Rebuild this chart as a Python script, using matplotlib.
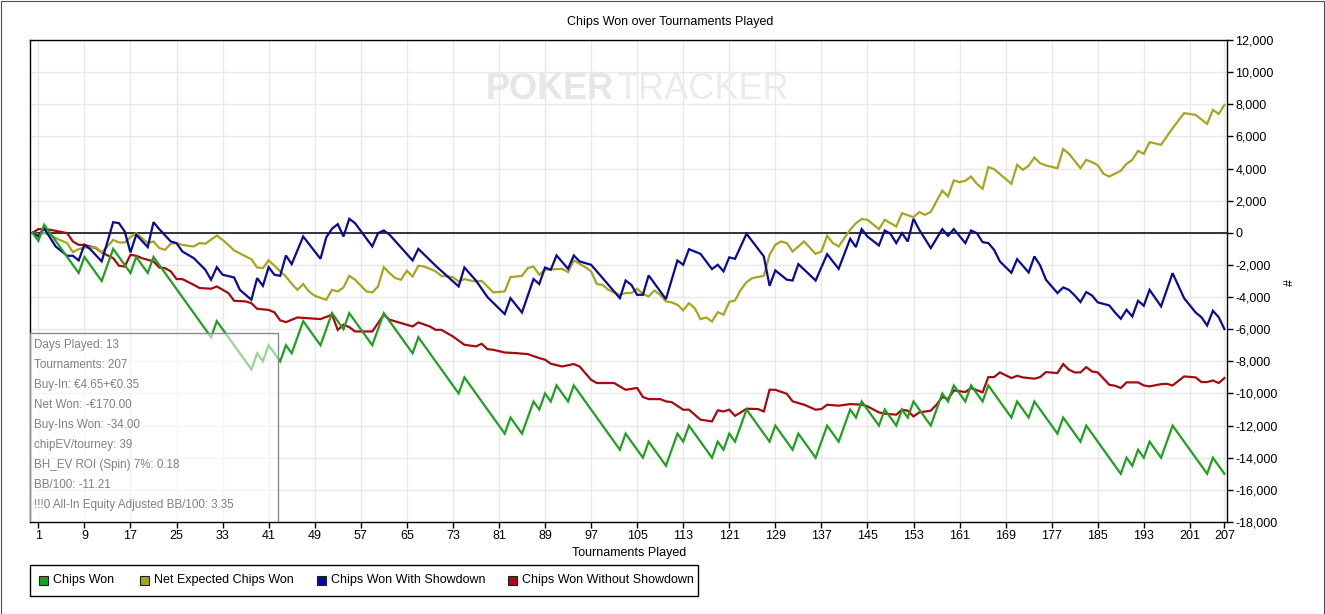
import matplotlib
matplotlib.use('Agg')
import matplotlib.pyplot as plt
from matplotlib.patches import Rectangle
from matplotlib.ticker import FuncFormatter

plt.rcParams['font.family'] = ['Liberation Sans', 'DejaVu Sans']

# ---------------- data (tournament index, cumulative chips) ----------------
green_t = [0,1,2,8,9,12,14,17,18,20,21,31,32,38,39,40,41,43,44,45,47,50,52,54,55,59,61,66,67,74,
           75,82,83,85,87,88,89,90,91,93,94,102,103,106,107,110,112,113,114,118,119,120,121,122,124,
           128,129,132,133,136,138,140,142,143,144,147,148,150,151,152,153,156,158,159,160,162,163,
           165,166,170,171,173,174,178,179,182,183,189,190,191,192,193,194,196,198,204,205,207]
green_v = [0,-500,500,-2500,-1500,-3000,-1000,-2500,-1500,-2500,-1500,-6500,-5500,-8500,-7500,
           -8000,-7000,-8000,-7000,-7500,-5500,-7000,-5000,-6000,-5000,-7000,-5000,-7500,-6500,-10000,
           -9000,-12500,-11500,-12500,-10500,-11000,-10000,-10500,-9500,-10500,-9500,-13500,-12500,
           -14000,-13000,-14500,-12500,-13000,-12000,-14000,-13000,-13500,-12500,-13000,-11000,
           -13000,-12000,-13500,-12500,-14000,-12000,-13000,-11000,-11500,-10500,-12000,-11000,
           -12000,-11000,-11500,-10500,-12000,-10000,-10500,-9500,-10500,-9500,-10500,-9500,-11500,
           -10500,-11500,-10500,-12500,-11500,-13000,-12000,-15000,-14000,-14500,-13500,-14000,
           -13000,-14000,-12000,-15000,-14000,-15000]

yellow_t = [0,1,2,3,4,6,7,8,9,11,12,13,14,15,16,17,18,19,20,21,22,23,24,25,26,27,28,29,30,32,
            33,34,35,37,38,39,40,41,42,43,44,45,46,47,48,49,51,52,53,54,55,56,58,59,60,61,62,63,
            64,65,66,67,68,69,70,71,73,74,75,76,77,78,79,80,82,83,85,86,87,88,89,91,92,93,94,96,
            97,98,99,100,102,103,104,105,106,107,108,109,110,111,112,113,114,115,116,117,118,119,
            120,121,122,123,124,125,127,128,129,130,131,132,134,136,137,138,139,140,142,143,144,
            145,147,148,150,151,153,154,155,156,158,159,160,161,162,163,164,165,166,167,170,171,
            172,173,174,175,176,178,179,180,182,183,184,185,186,187,189,190,191,192,193,194,196,
            198,200,202,204,205,206,207]
yellow_v = [0,-120,0,-120,-330,-640,-1200,-1020,-910,-910,-1220,-850,-440,-600,-600,-270,-20,
            -330,-640,-540,-950,-1060,-680,-640,-750,-810,-850,-640,-680,-170,-440,-750,-1100,
            -1470,-1640,-2160,-2200,-1720,-2050,-2400,-2720,-3170,-3550,-3190,-3650,-3920,-4170,
            -3550,-3650,-3400,-2680,-2920,-3650,-3710,-3340,-2140,-2510,-2820,-2920,-2360,-2720,
            -2050,-2100,-2240,-2400,-2680,-2760,-3030,-2880,-2970,-3030,-2990,-3340,-3710,-3650,
            -2760,-2680,-2200,-2100,-2610,-2300,-2260,-2240,-2450,-1720,-2140,-2400,-3190,-3240,
            -3550,-3860,-3750,-3750,-3480,-3800,-3960,-3590,-3860,-4270,-4330,-4480,-4830,-4380,
            -4690,-5370,-5270,-5520,-4940,-5100,-4310,-4210,-3550,-3070,-2820,-2680,-1370,-750,
            -540,-640,-1160,-540,-1310,-1160,-190,-640,-850,190,600,850,810,230,810,390,1220,975,
            1290,1120,1300,2630,2260,3260,3150,3240,3500,3050,2740,4090,3960,3050,4230,3920,4170,
            4690,4330,4190,4020,5210,4920,4020,4540,4400,4210,3670,3500,3860,4290,4540,5100,4920,
            5640,5480,6510,7450,7340,6780,7650,7400,7960]

blue_t = [0,1,2,4,6,7,8,9,10,12,14,15,16,17,18,20,21,22,24,25,26,28,30,31,32,33,35,36,38,39,
          40,41,42,43,44,45,47,50,51,52,53,54,55,56,59,60,61,62,66,67,70,74,75,77,79,82,83,85,
          87,88,89,90,91,93,94,95,97,98,100,102,103,104,105,106,107,110,112,113,114,116,118,119,
          120,121,122,124,127,128,129,131,132,133,136,138,140,142,143,144,145,147,148,149,150,
          151,152,153,154,156,158,159,160,162,163,164,165,166,167,168,170,171,173,174,175,176,
          177,178,179,180,181,182,183,184,185,187,188,189,190,191,192,193,194,196,198,200,202,
          203,204,205,206,207]
blue_v = [0,-230,290,-850,-1430,-1430,-1720,-750,-1016,-1780,660,600,80,-1220,-120,-890,660,
          230,-540,-640,-1160,-1580,-2300,-2920,-2140,-2610,-2780,-3550,-4170,-2820,-3300,-2140,
          -2610,-2680,-1410,-1950,-230,-1620,-290,250,540,-230,870,600,-850,-20,145,-120,-1720,
          -1000,-2050,-3340,-2160,-2970,-4000,-5060,-4070,-4960,-2880,-3190,-2160,-2300,-1410,
          -2240,-1410,-1780,-1990,-2400,-3240,-4070,-2970,-3240,-3860,-3860,-2650,-4130,-1720,
          -1990,-1020,-1310,-2260,-1990,-2400,-1530,-1620,-60,-1470,-3300,-2340,-2920,-2970,
          -1950,-2970,-1330,-2240,-370,-890,230,-230,-790,145,-60,-640,-20,-540,870,190,-950,230,
          -190,230,-640,145,-20,-580,-640,-1060,-1780,-2490,-1640,-2470,-1470,-2030,-2920,-3340,
          -3750,-3400,-3550,-3900,-4310,-3690,-3900,-4330,-4520,-4960,-5350,-4790,-5210,-4230,
          -4540,-3550,-4580,-2510,-4070,-4960,-5250,-5770,-4850,-5250,-5990]

red_t = [0,1,3,6,7,8,9,11,12,14,15,16,17,18,19,21,22,23,24,25,26,28,29,31,32,34,35,37,38,39,
         41,42,43,44,46,50,52,53,54,55,56,59,61,62,64,66,67,69,70,71,73,75,77,78,79,80,82,84,86,
         88,89,90,92,94,95,96,97,98,101,102,103,105,106,107,109,110,111,113,114,116,118,119,120,
         121,122,123,124,126,127,128,129,131,132,134,136,137,138,140,142,144,145,147,148,150,151,
         152,153,154,156,157,158,159,160,162,163,165,166,167,168,170,171,172,174,175,176,178,179,
         180,181,182,183,184,185,186,187,188,189,190,192,193,194,196,197,198,200,202,203,204,205,
         206,207]
red_v = [0,230,190,-20,-540,-750,-750,-950,-1220,-1580,-2050,-2100,-1370,-1430,-1580,-1780,
         -2160,-2200,-2400,-2880,-2880,-3240,-3440,-3480,-3340,-3750,-4230,-4270,-4380,-4730,
         -4800,-4950,-5450,-5560,-5270,-5370,-5100,-6040,-5720,-5870,-6140,-6140,-5100,-5410,
         -5620,-5830,-5580,-5830,-6040,-6040,-6450,-6970,-7070,-6910,-7240,-7280,-7450,-7490,
         -7550,-7800,-7900,-8150,-8320,-8170,-8320,-8730,-9150,-9350,-9350,-9560,-9770,-9660,
         -10220,-10350,-10350,-10490,-10540,-11010,-11010,-11630,-11740,-11050,-11120,-11010,
         -11390,-11180,-10950,-10970,-11120,-9770,-9770,-10020,-10490,-10700,-11010,-10970,
         -10700,-10760,-10660,-10700,-10800,-11180,-11260,-11320,-11010,-11070,-11430,-11180,
         -11070,-10700,-10220,-10350,-9810,-9910,-9660,-9930,-8980,-8980,-8690,-9040,-8900,-9000,
         -9080,-8980,-8670,-8730,-8170,-8520,-8690,-8690,-8360,-8630,-8690,-9080,-9460,-9520,
         -9660,-9310,-9310,-9500,-9560,-9420,-9400,-9500,-8940,-9000,-9290,-9290,-9190,-9350,
         -9040]

series_names = ['Chips Won', 'Net Expected Chips Won', 'Chips Won With Showdown',
                'Chips Won Without Showdown']
series_colors = ['#20a020', '#a6a620', '#0a0a9a', '#a80a12']

x_ticks = list(range(1, 202, 8)) + [207]
y_ticks = list(range(-18000, 12001, 2000))

info_lines = ['Days Played: 13', 'Tournaments: 207', 'Buy-In: €4.65+€0.35', 'Net Won: -€170.00',
              'Buy-Ins Won: -34.00', 'chipEV/tourney: 39', 'BH_EV ROI (Spin) 7%: 0.18',
              'BB/100: -11.21', '!!!0 All-In Equity Adjusted BB/100: 3.35']

# ---------------- figure ----------------
W, H = 1325, 614
fig = plt.figure(figsize=(W / 100, H / 100), dpi=100)
ax = fig.add_axes([30 / W, 1 - 522 / H, 1197 / W, 482 / H])

ax.set_xlim(-0.45, 207.45)
ax.set_ylim(-18000, 12000)
ax.set_xticks(x_ticks)
ax.set_yticks(y_ticks)
ax.yaxis.tick_right()
ax.yaxis.set_major_formatter(FuncFormatter(lambda v, p: f'{int(v):,}'))
ax.tick_params(axis='both', labelsize=9, length=4, width=1, direction='out', colors='black',
               pad=2)
ax.grid(True, color='#e9e9e9', lw=1, zorder=0)
ax.set_axisbelow(True)
for s in ax.spines.values():
    s.set_color('black')
    s.set_linewidth(1)

ax.axhline(0, color='black', lw=1.1, zorder=1.5)

# watermark
ax.text(0.4875, 0.898, 'POKER', transform=ax.transAxes, ha='right', va='center',
        fontsize=26, fontweight='bold', color='#e6e6e6', zorder=1)
ax.text(0.4900, 0.898, 'TRACKER', transform=ax.transAxes, ha='left', va='center',
        fontsize=26, color='#ebebeb', zorder=1)

data = [(green_t, green_v), (yellow_t, yellow_v), (blue_t, blue_v), (red_t, red_v)]
zorders = [6, 3, 4, 2]
for (tt, vv), c, z, n in zip(data, series_colors, zorders, series_names):
    ax.plot(tt, vv, color=c, lw=1.6, zorder=z, label=n, solid_joinstyle='miter')

# info box
ax.add_patch(Rectangle((0, 0), 248 / 1197, 189 / 482, transform=ax.transAxes,
                       facecolor=(1, 1, 1, 0.55), edgecolor='#8a8a8a', lw=1, zorder=8))
for i, line in enumerate(info_lines):
    fig.text(34 / W, 1 - (345 + 20 * i) / H, line, ha='left', va='center', fontsize=8.4,
             color='#808080', zorder=9)

# titles
fig.text(670 / W, 1 - 22 / H, 'Chips Won over Tournaments Played', ha='center', va='center',
         fontsize=9)
fig.text(629 / W, 1 - 553 / H, 'Tournaments Played', ha='center', va='center', fontsize=9)
fig.text(1290 / W, 1 - 282 / H, '#', ha='center', va='center', fontsize=9, rotation=90)

# legend
fig.patches.append(Rectangle((30 / W, 1 - 596 / H), 668 / W, 31 / H, transform=fig.transFigure,
                             facecolor='white', edgecolor='black', lw=1))
sq_x = [39, 140, 317, 508]
for x0, c, n in zip(sq_x, series_colors, series_names):
    fig.patches.append(Rectangle((x0 / W, 1 - 584.5 / H), 9 / W, 9 / H,
                                 transform=fig.transFigure, facecolor=c, edgecolor='#202020',
                                 lw=0.8))
    fig.text((x0 + 14) / W, 1 - 580 / H, n, ha='left', va='center', fontsize=9)

# outer frame
fig.patches.append(Rectangle((0.5 / W, 0.5 / H), 1 - 1.5 / W, 1 - 1.5 / H,
                             transform=fig.transFigure, facecolor='none', edgecolor='#505050',
                             lw=0.8))

fig.savefig('out.png', dpi=100)
